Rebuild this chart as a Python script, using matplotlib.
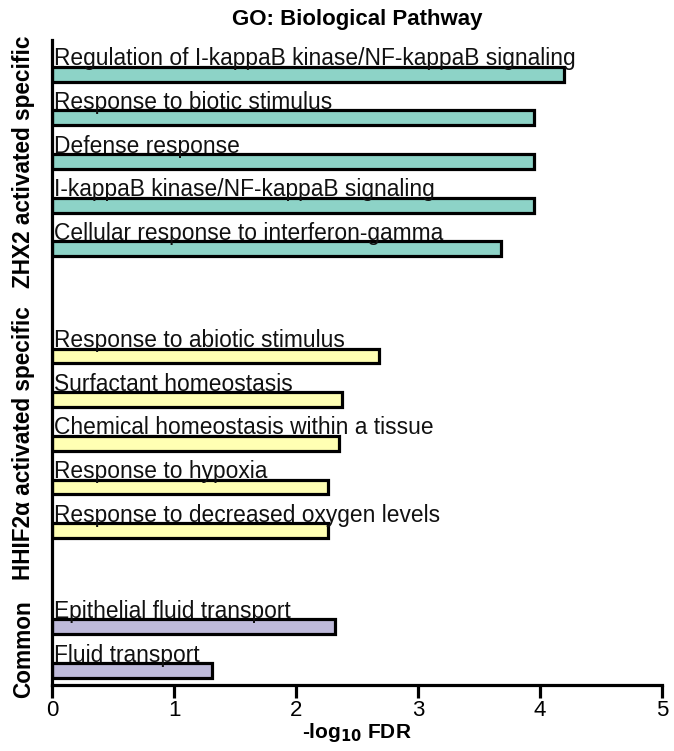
import matplotlib
matplotlib.use("Agg")
import matplotlib.pyplot as plt

plt.rcParams['font.family'] = ['Liberation Sans', 'DejaVu Sans']

# Data
terms_zhx2 = ["Regulation of I-kappaB kinase/NF-kappaB signaling",
              "Response to biotic stimulus",
              "Defense response",
              "I-kappaB kinase/NF-kappaB signaling",
              "Cellular response to interferon-gamma"]
vals_zhx2 = [4.20, 3.95, 3.95, 3.95, 3.68]

terms_hif = ["Response to abiotic stimulus",
             "Surfactant homeostasis",
             "Chemical homeostasis within a tissue",
             "Response to hypoxia",
             "Response to decreased oxygen levels"]
vals_hif = [2.68, 2.38, 2.35, 2.26, 2.26]

terms_common = ["Epithelial fluid transport", "Fluid transport"]
vals_common = [2.32, 1.31]

group_names = ["ZHX2 activated specific", "HHIF2\u03b1 activated specific", "Common"]
group_colors = ["#8DD3C7", "#FFFFB3", "#BEBADA"]
group_starts = [0.0, 6.45, 12.65]

xticks = [0, 1, 2, 3, 4, 5]

fig = plt.figure(figsize=(6.74, 7.51), dpi=100)
ax = fig.add_axes([0.0772, 0.0879, 0.905, 0.8588])

groups = [(terms_zhx2, vals_zhx2), (terms_hif, vals_hif), (terms_common, vals_common)]
bar_h = 0.34
for (terms, vals), start, color, gname in zip(groups, group_starts, group_colors, group_names):
    ys = [start + i for i in range(len(terms))]
    ax.barh(ys, vals, height=bar_h, color=color, edgecolor='black', linewidth=2.3, zorder=2)
    for y, t in zip(ys, terms):
        ax.text(0.02, y - bar_h / 2 + 0.08, t, fontsize=16.4, va='bottom', ha='left',
                color='#111111', zorder=3)
    center = (ys[0] + ys[-1]) / 2
    ax.text(-0.047, center, gname, transform=ax.get_yaxis_transform(), rotation=90,
            ha='center', va='center', fontsize=16.3, fontweight='bold')

ax.set_xlim(0, 5)
ax.set_ylim(13.98, -0.78)
ax.set_xticks(xticks)
ax.set_xticklabels([str(t) for t in xticks], fontsize=16)
ax.set_yticks([])
ax.tick_params(axis='x', length=9, width=2.3, pad=2)
for s in ['top', 'right']:
    ax.spines[s].set_visible(False)
for s in ['left', 'bottom']:
    ax.spines[s].set_linewidth(2.3)
ax.set_xlabel(r"-log$_{\mathbf{10}}$ FDR", fontsize=15, fontweight='bold', labelpad=0)
ax.set_title("GO: Biological Pathway", fontsize=16, fontweight='bold', pad=11)

fig.savefig("out.png", dpi=100)
